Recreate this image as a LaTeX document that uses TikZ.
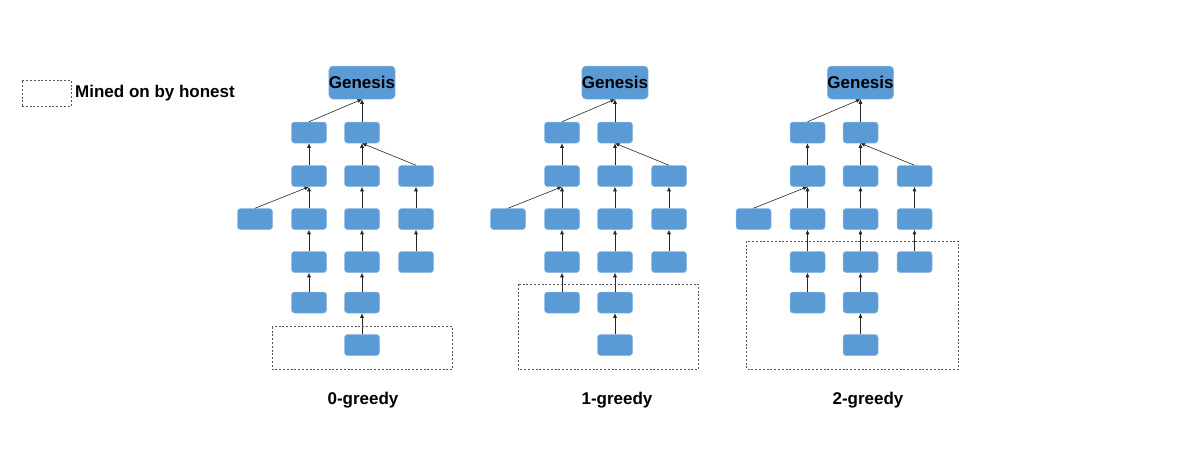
\documentclass[tikz,border=0pt]{standalone}
\usepackage{fontspec}
\setmainfont{Liberation Sans}
\usetikzlibrary{arrows.meta}
\definecolor{blockblue}{HTML}{5B9BD5}
\definecolor{blockedge}{HTML}{8DB8E2}
\definecolor{dashgray}{HTML}{555555}
\newcommand{\lbl}{\bfseries\fontsize{17}{20}\selectfont}

\begin{document}
\begin{tikzpicture}[x=1pt, y=-1pt,
  block/.style={rectangle, rounded corners=3pt, fill=blockblue, draw=blockedge, line width=0.5pt,
    minimum width=35pt, minimum height=21pt, inner sep=0pt},
  genesis/.style={block, rounded corners=4pt, minimum width=66pt, minimum height=33pt, font=\lbl},
  link/.style={-{Latex[length=4.5pt,width=4pt]}, line width=0.6pt, draw=black!85},
  honest/.style={draw=dashgray, line width=0.6pt, dash pattern=on 2pt off 1.8pt}]
\useasboundingbox (0,0) rectangle (1196,456);
% legend
\node[honest, minimum width=49pt, minimum height=26pt, inner sep=0pt] (key) at (46.5,93) {};
\node[font=\lbl, anchor=west, inner sep=0pt] (keytext) at (75,93.5) {Mined on by honest};
% three trees, same chain, growing honest region
\foreach \t/\dx/\l/\r/\top/\lx in {0/0/272.3/452.3/326.7/363, 1/253/265.3/445.3/284/364, 2/498.5/248.2/459.8/241/369.5} {
  \begin{scope}[xshift=\dx pt]
    \node[genesis] (t\t-g) at (362,82.5) {Genesis};
    % row 1
    \node[block] (t\t-a1) at (309,132.5) {};
    \node[block] (t\t-b1) at (362,132.5) {};
    % row 2
    \node[block] (t\t-a2) at (309,176) {};
    \node[block] (t\t-b2) at (362,176) {};
    \node[block] (t\t-c2) at (416,176) {};
    % row 3
    \node[block] (t\t-L3) at (255,219) {};
    \node[block] (t\t-a3) at (309,219) {};
    \node[block] (t\t-b3) at (362,219) {};
    \node[block] (t\t-c3) at (416,219) {};
    % row 4
    \node[block] (t\t-a4) at (309,262) {};
    \node[block] (t\t-b4) at (362,262) {};
    \node[block] (t\t-c4) at (416,262) {};
    % rows 5 and 6
    \node[block] (t\t-a5) at (309,302.5) {};
    \node[block] (t\t-b5) at (362,302.5) {};
    \node[block] (t\t-b6) at (362,345) {};
    % child -> parent
    \foreach \c/\p in {a1/g, b1/g, a2/a1, b2/b1, c2/b1, L3/a2, a3/a2, b3/b2, c3/c2,
                       a4/a3, b4/b3, c4/c3, a5/a4, b5/b4, b6/b5}
      \draw[link] (t\t-\c.north) -- (t\t-\p.south);
    % blocks mined on by honest
    \draw[honest] (\l,\top) rectangle (\r,369.3);
    \node[font=\lbl, inner sep=0pt] (t\t-name) at (\lx,400.5) {\t-greedy};
  \end{scope}
}
\end{tikzpicture}
\end{document}
